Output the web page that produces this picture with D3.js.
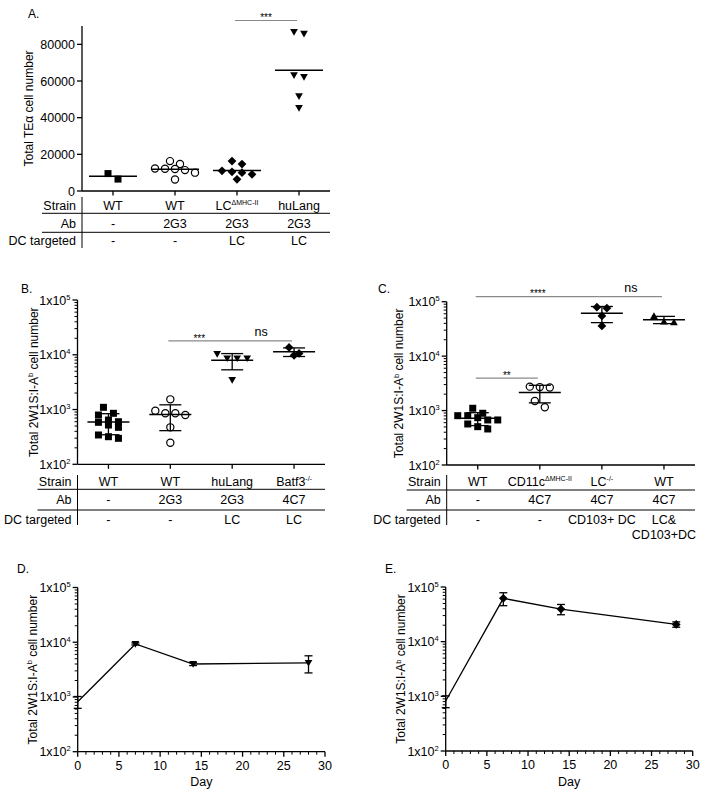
<!DOCTYPE html>
<html><head><meta charset="utf-8">
<script src="https://cdn.jsdelivr.net/npm/d3@7"></script>
<style>
body{margin:0;background:#fff}
svg text{font-family:"Liberation Sans",Arial,Helvetica,sans-serif;fill:#000}
</style>
</head><body>
<svg id="c" width="710" height="797"></svg>
<script>
// ================= DATA =================
const tableRows = ["Strain", "Ab", "DC targeted"];

// Panel A (linear)
const strainA = ["WT", "WT", "LC{ΔMHC-II}", "huLang"];
const abA = ["-", "2G3", "2G3", "2G3"];
const dcA = ["-", "-", "LC", "LC"];
const a_WT = [6500, 9500];
const a_WT2G3 = [16300, 12100, 12300, 6300, 11400, 10000, 14700, 12000];
const a_LC = [16300, 14700, 10000, 11000, 10500, 9100, 6400];
const a_huLang = [86700, 85800, 62200, 63100, 51700, 45300];
const yTicksA = [0, 20000, 40000, 60000, 80000];

// Panel B (log)
const strainB = ["WT", "WT", "huLang", "Batf3{-/-}"];
const abB = ["-", "2G3", "2G3", "4C7"];
const dcB = ["-", "-", "LC", "LC"];
const b_WT = [1097, 643, 794, 853, 521, 473, 584, 599, 343, 298, 319];
const b_WT2G3 = [1535, 853, 794, 853, 951, 473, 248];
const b_huLang = [10300, 8600, 8600, 8600, 3450];
const b_Batf3 = [13600, 9750, 10600];

// Panel C (log)
const strainC = ["WT", "CD11c{ΔMHC-II}", "LC{-/-}", "WT"];
const abC = ["-", "4C7", "4C7", "4C7"];
const dcC = ["-", "-", "CD103+ DC", "LC&|CD103+DC"];
const c_WT = [892, 672, 806, 740, 806, 1102, 672, 567, 459, 506];
const c_CD11c = [2650, 2700, 2750, 1150, 1500];
const c_LC = [79300, 75900, 54800, 35900];
const c_WT4C7 = [54800, 42000, 43100];

const logTicks = [1e2, 1e3, 1e4, 1e5];

// Panels D & E (time course)
const days = [0, 7, 14, 28];
const d_mean = [820, 9300, 4000, 4200];
const d_sd = [200, 400, 250, 1450];
const e_mean = [820, 62000, 39500, 20700];
const e_sd = [200, 16500, 8400, 2300];
const dayTicks = [0, 5, 10, 15, 20, 25, 30];

// significance annotations: [fromCategory, toCategory, level(value), label]
const sigA = [[2, 3, 93000, "***"]];
const sigB = [[1, 2, 18000, "***"], [2, 3, 18000, "ns"]];
const sigC = [[0, 2, 124000, "****"], [2, 3, 124000, "ns"], [0, 1, 3930, "**"]];

// ================= DRAWING =================
const svg = d3.select("#c");
const AX = "#000";

function rich(sel, str, supSize, shift) {
  // "{...}" marks superscript
  const parts = str.split(/(\{[^}]*\})/).filter(s => s.length);
  let up = false;
  parts.forEach(p => {
    if (p[0] === "{") {
      sel.append("tspan").attr("font-size", supSize).attr("dy", -shift).text(p.slice(1, -1));
      up = true;
    } else {
      const t = sel.append("tspan").text(p);
      if (up) { t.attr("dy", shift); up = false; }
    }
  });
}

function shapePath(shape, s) {
  const h = s / 2;
  switch (shape) {
    case "square": return `M${-h},${-h}H${h}V${h}H${-h}Z`;
    case "diamond": { const d = h * 1.25; return `M0,${-d}L${d},0L0,${d}L${-d},0Z`; }
    case "tridown": return `M${-h * 1.1},${-h * 0.85}L${h * 1.1},${-h * 0.85}L0,${h * 1.05}Z`;
    case "triup": return `M${-h * 1.1},${h * 0.85}L${h * 1.1},${h * 0.85}L0,${-h * 1.05}Z`;
  }
}

function drawMarker(g, shape, x, y) {
  if (shape === "circle") {
    g.append("circle").attr("cx", x).attr("cy", y).attr("r", 3.6)
      .attr("fill", "#fff").attr("stroke", "#000").attr("stroke-width", 1.2);
  } else {
    g.append("path").attr("d", shapePath(shape, 7)).attr("transform", `translate(${x},${y})`).attr("fill", "#000");
  }
}

function swarm(vals, y, cx, spacing, thresh) {
  const pts = vals.map(v => ({ v, py: y(v) })).sort((a, b) => a.py - b.py);
  const out = [];
  let i = 0;
  while (i < pts.length) {
    let j = i;
    while (j + 1 < pts.length && pts[j + 1].py - pts[i].py < thresh) j++;
    const n = j - i + 1;
    for (let k = 0; k < n; k++) out.push({ x: cx + (k - (n - 1) / 2) * spacing, y: pts[i + k].py });
    i = j + 1;
  }
  return out;
}

function logTickLabel(v) { return "1x10{" + Math.round(Math.log10(v)) + "}"; }

function yAxisLog(g, y, axisX) {
  const [d0, d1] = y.domain();
  g.append("line").attr("x1", axisX).attr("x2", axisX).attr("y1", y(d1)).attr("y2", y(d0))
    .attr("stroke", AX).attr("stroke-width", 1.3);
  for (let e = Math.log10(d0); e < Math.log10(d1); e++) {
    for (let k = 2; k <= 9; k++) {
      const yy = y(k * Math.pow(10, e));
      g.append("line").attr("x1", axisX - 3).attr("x2", axisX).attr("y1", yy).attr("y2", yy)
        .attr("stroke", AX).attr("stroke-width", 1);
    }
  }
  logTicks.forEach(v => {
    const yy = y(v);
    g.append("line").attr("x1", axisX - 5).attr("x2", axisX).attr("y1", yy).attr("y2", yy)
      .attr("stroke", AX).attr("stroke-width", 1.3);
    const t = g.append("text").attr("x", axisX - 7).attr("y", yy + 4.5)
      .attr("text-anchor", "end").attr("font-size", 12.5);
    rich(t, logTickLabel(v), 7.5, 5);
  });
}

function yTitle(g, x, yc, str) {
  const t = g.append("text").attr("transform", `translate(${x},${yc}) rotate(-90)`)
    .attr("text-anchor", "middle").attr("font-size", 12);
  rich(t, str, 7.5, 4.5);
}

function panelLabel(g, x, y, s) {
  g.append("text").attr("x", x).attr("y", y).attr("font-size", 12).text(s);
}

function scatterPanel(o) {
  const g = svg.append("g");
  const x = d3.scalePoint().domain(d3.range(o.groups.length)).range([o.axisX, o.axisEnd]).padding(0.5);
  const y = o.y;
  const yBot = y.range()[0];
  // axes
  if (o.log) yAxisLog(g, y, o.axisX);
  else {
    g.append("line").attr("x1", o.axisX).attr("x2", o.axisX).attr("y1", y.range()[1]).attr("y2", yBot)
      .attr("stroke", AX).attr("stroke-width", 1.3);
    o.ticks.forEach(v => {
      g.append("line").attr("x1", o.axisX - 5).attr("x2", o.axisX).attr("y1", y(v)).attr("y2", y(v))
        .attr("stroke", AX).attr("stroke-width", 1.3);
      g.append("text").attr("x", o.axisX - 7).attr("y", y(v) + 4.5).attr("text-anchor", "end")
        .attr("font-size", 12.5).text(v);
    });
  }
  g.append("line").attr("x1", o.axisX).attr("x2", o.axisEnd).attr("y1", yBot).attr("y2", yBot)
    .attr("stroke", AX).attr("stroke-width", 1.3);
  o.groups.forEach((gr, i) => {
    g.append("line").attr("x1", x(i)).attr("x2", x(i)).attr("y1", yBot).attr("y2", yBot + 4.5)
      .attr("stroke", AX).attr("stroke-width", 1.3);
  });
  // points
  o.groups.forEach((gr, i) => {
    swarm(gr.vals, y, x(i), 10, 7).forEach(p => drawMarker(g, gr.shape, p.x, p.y));
  });
  // mean (+SD)
  o.groups.forEach((gr, i) => {
    const m = d3.mean(gr.vals);
    const cx = x(i);
    g.append("line").attr("x1", cx - o.meanW / 2).attr("x2", cx + o.meanW / 2)
      .attr("y1", y(m)).attr("y2", y(m)).attr("stroke", "#000").attr("stroke-width", 1.5);
    if (o.sd) {
      const s = d3.deviation(gr.vals);
      const hi = m + s, lo = Math.max(m - s, 1);
      g.append("line").attr("x1", cx).attr("x2", cx).attr("y1", y(hi)).attr("y2", y(lo))
        .attr("stroke", "#000").attr("stroke-width", 1.3);
      [hi, lo].forEach(v => g.append("line").attr("x1", cx - 11).attr("x2", cx + 11)
        .attr("y1", y(v)).attr("y2", y(v)).attr("stroke", "#000").attr("stroke-width", 1.3));
    }
  });
  // significance
  o.sig.forEach(([a, b, lev, lab]) => {
    const yy = y(lev);
    const x1 = x(a) - 2, x2 = x(b) - 2;
    g.append("line").attr("x1", x1).attr("x2", x2).attr("y1", yy).attr("y2", yy)
      .attr("stroke", "#8a8a8a").attr("stroke-width", 1.2);
    const star = lab.indexOf("*") >= 0;
    g.append("text").attr("x", (x1 + x2) / 2).attr("y", star ? yy + 0.8 : yy - 4.5)
      .attr("text-anchor", "middle").attr("font-size", star ? 10 : 12.5).text(lab);
  });
  // table
  const rows = [o.table.strain, o.table.ab, o.table.dc];
  rows.forEach((r, ri) => {
    g.append("text").attr("x", o.axisX - 6).attr("y", o.rowY[ri]).attr("text-anchor", "end")
      .attr("font-size", 12.5).text(tableRows[ri]);
    r.forEach((s, i) => {
      s.split("|").forEach((line, li) => {
        const t = g.append("text").attr("x", x(i)).attr("y", o.rowY[ri] + li * 15)
          .attr("text-anchor", "middle").attr("font-size", 12.5);
        rich(t, line, 7, 5);
      });
    });
  });
  o.lineY.forEach(ly => g.append("line").attr("x1", o.axisX - 40).attr("x2", o.axisEnd)
    .attr("y1", ly).attr("y2", ly).attr("stroke", "#000").attr("stroke-width", 1));
  g.append("line").attr("x1", o.axisX).attr("x2", o.axisX).attr("y1", o.vLine[0]).attr("y2", o.vLine[1])
    .attr("stroke", "#000").attr("stroke-width", 1);
  yTitle(g, o.titleX, (y.range()[0] + y.range()[1]) / 2, o.title);
  panelLabel(g, o.label[1], o.label[2], o.label[0]);
}

function linePanel(o) {
  const g = svg.append("g");
  const x = d3.scaleLinear().domain([0, 30]).range([o.axisX, o.axisEnd]);
  const y = o.y;
  const yBot = y.range()[0];
  yAxisLog(g, y, o.axisX);
  g.append("line").attr("x1", o.axisX).attr("x2", o.axisEnd).attr("y1", yBot).attr("y2", yBot)
    .attr("stroke", AX).attr("stroke-width", 1.3);
  d3.range(0, 31).forEach(d => {
    const major = d % 5 === 0;
    g.append("line").attr("x1", x(d)).attr("x2", x(d)).attr("y1", yBot).attr("y2", yBot + (major ? 5 : 3))
      .attr("stroke", AX).attr("stroke-width", major ? 1.3 : 1);
  });
  dayTicks.forEach(d => g.append("text").attr("x", x(d)).attr("y", yBot + 18).attr("text-anchor", "middle")
    .attr("font-size", 12.5).text(d));
  g.append("text").attr("x", (o.axisX + o.axisEnd) / 2).attr("y", yBot + 34.5).attr("text-anchor", "middle")
    .attr("font-size", 12.5).text("Day");
  const pts = days.map((d, i) => ({ d, m: o.mean[i], s: o.sd[i] }));
  g.append("path").datum(pts).attr("d", d3.line().x(p => x(p.d)).y(p => y(p.m)))
    .attr("fill", "none").attr("stroke", "#000").attr("stroke-width", 1.3);
  pts.forEach(p => {
    const cx = x(p.d);
    g.append("line").attr("x1", cx).attr("x2", cx).attr("y1", y(p.m + p.s)).attr("y2", y(p.m - p.s))
      .attr("stroke", "#000").attr("stroke-width", 1.3);
    [p.m + p.s, p.m - p.s].forEach(v => g.append("line").attr("x1", cx - 4).attr("x2", cx + 4)
      .attr("y1", y(v)).attr("y2", y(v)).attr("stroke", "#000").attr("stroke-width", 1.3));
    if (p.d > 0) drawMarker(g, o.shape, cx, y(p.m));
  });
  yTitle(g, o.titleX, (y.range()[0] + y.range()[1]) / 2, "Total 2W1S:I-A{b} cell number");
  panelLabel(g, o.label[1], o.label[2], o.label[0]);
}

scatterPanel({
  axisX: 82, axisEnd: 330, y: d3.scaleLinear().domain([0, 90000]).range([191, 26]), log: false,
  ticks: yTicksA, meanW: 48, sd: false,
  groups: [{ vals: a_WT, shape: "square" }, { vals: a_WT2G3, shape: "circle" },
           { vals: a_LC, shape: "diamond" }, { vals: a_huLang, shape: "tridown" }],
  sig: sigA,
  table: { strain: strainA, ab: abA, dc: dcA },
  rowY: [209.5, 227.5, 245], lineY: [213.3, 232.3], vLine: [197, 248],
  title: "Total TEα cell number", titleX: 33, label: ["A.", 28, 17.5]
});

scatterPanel({
  axisX: 77.5, axisEnd: 325, y: d3.scaleLog().domain([100, 1e5]).range([464.3, 300]), log: true,
  meanW: 42, sd: true,
  groups: [{ vals: b_WT, shape: "square" }, { vals: b_WT2G3, shape: "circle" },
           { vals: b_huLang, shape: "tridown" }, { vals: b_Batf3, shape: "diamond" }],
  sig: sigB,
  table: { strain: strainB, ab: abB, dc: dcB },
  rowY: [486, 503.5, 523.5], lineY: [489.3, 510], vLine: [475, 525],
  title: "Total 2W1S:I-A{b} cell number", titleX: 37.5, label: ["B.", 21, 292.5]
});

scatterPanel({
  axisX: 446.7, axisEnd: 695, y: d3.scaleLog().domain([100, 1e5]).range([465, 301.7]), log: true,
  meanW: 42, sd: true,
  groups: [{ vals: c_WT, shape: "square" }, { vals: c_CD11c, shape: "circle" },
           { vals: c_LC, shape: "diamond" }, { vals: c_WT4C7, shape: "triup" }],
  sig: sigC,
  table: { strain: strainC, ab: abC, dc: dcC },
  rowY: [486, 503.5, 523.5], lineY: [490, 510], vLine: [475, 525],
  title: "Total 2W1S:I-A{b} cell number", titleX: 403, label: ["C.", 378, 293]
});

linePanel({
  axisX: 77.7, axisEnd: 325, y: d3.scaleLog().domain([100, 1e5]).range([751.7, 587.5]),
  mean: d_mean, sd: d_sd, shape: "tridown", titleX: 36.5, label: ["D.", 17, 572.7]
});

linePanel({
  axisX: 445.7, axisEnd: 692.7, y: d3.scaleLog().domain([100, 1e5]).range([751, 587]),
  mean: e_mean, sd: e_sd, shape: "diamond", titleX: 405, label: ["E.", 385, 573]
});
</script>
</body></html>
